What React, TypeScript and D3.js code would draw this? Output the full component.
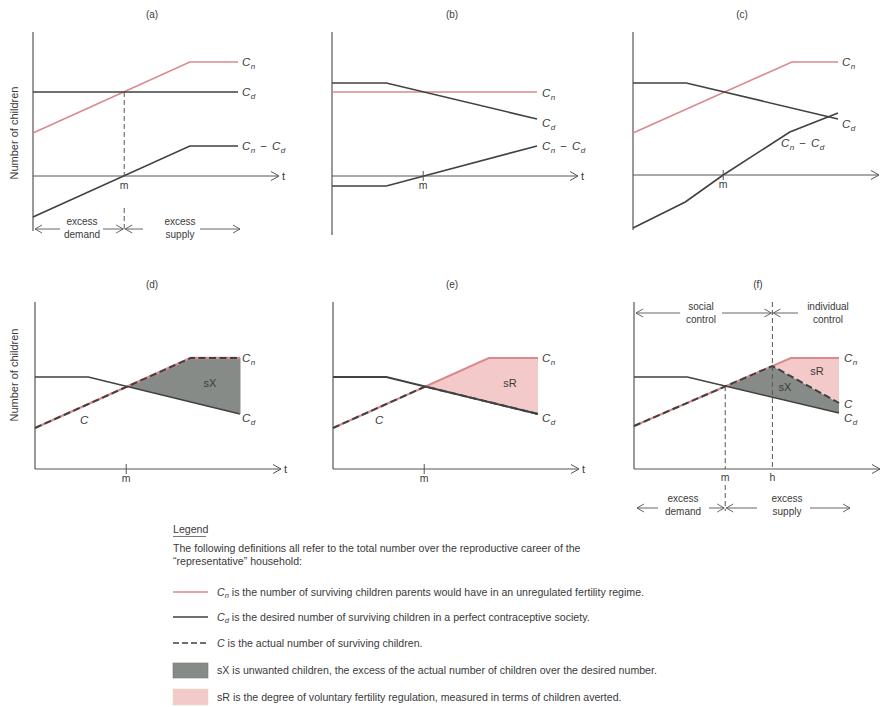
import React from 'react';
import * as d3 from 'd3';

type Pt = [number, number];

// ---- Data (t from 0..10, values in "children" units, 0 = time axis) ----
const A_CN: Pt[] = [[0, 4.3], [7.65, 11.4], [10, 11.4]];
const A_CD: Pt[] = [[0, 8.4], [10, 8.4]];
const A_DIFF: Pt[] = [[0, -4.1], [7.65, 3.0], [10, 3.0]];

const B_CN: Pt[] = [[0, 8.4], [10, 8.4]];
const B_CD: Pt[] = [[0, 9.3], [2.65, 9.3], [10, 5.7]];
const B_DIFF: Pt[] = [[0, -1.0], [2.65, -1.0], [10, 3.0]];

const C_CN: Pt[] = [[0, 4.2], [7.75, 11.3], [10, 11.3]];
const C_CD: Pt[] = [[0, 9.2], [2.6, 9.2], [10, 5.6]];
const C_DIFF: Pt[] = [[0, -5.3], [2.55, -2.7], [4.4, 0], [7.65, 4.3], [10, 6.2]];

const LOW_CN: Pt[] = [[0, 4.1], [7.6, 11.1], [10, 11.1]];
const LOW_CD: Pt[] = [[0, 9.2], [2.6, 9.2], [10, 5.5]];
const F_CN: Pt[] = [[0, 4.3], [7.65, 11.1], [10, 11.1]];
const F_CD: Pt[] = [[0, 9.2], [2.6, 9.2], [10, 5.6]];
const F_C: Pt[] = [[0, 4.3], [6.75, 10.3], [10, 6.6]];

const M_T = [4.45, 4.45, 4.4, 4.45, 4.45, 4.45];
const H_T = 6.75;
const PANEL_TITLES = ['(a)', '(b)', '(c)', '(d)', '(e)', '(f)'];

const LEGEND_TEXTS = [
  ' is the number of surviving children parents would have in an unregulated fertility regime.',
  ' is the desired number of surviving children in a perfect contraceptive society.',
  ' is the actual number of surviving children.',
  'sX is unwanted children, the excess of the actual number of children over the desired number.',
  'sR is the degree of voluntary fertility regulation, measured in terms of children averted.',
];

// ---- styles ----
const RED = '#d98a8e';
const DARK = '#3f4240';
const AXIS = '#555';
const TXT = '#3a3a3a';
const GREY_FILL = '#868b87';
const PINK_FILL = '#f4c9ca';
const FONT = 'Liberation Sans, Arial, Helvetica, sans-serif';
const LFS = 10.6;

const interp = (s: Pt[]) => d3.scaleLinear().domain(s.map(p => p[0])).range(s.map(p => p[1])).clamp(true);

function crossing(a: Pt[], b: Pt[]) {
  const fa = interp(a), fb = interp(b);
  let lo = 0, hi = 10;
  const sign = (t: number) => Math.sign(fa(t) - fb(t));
  const s0 = sign(lo);
  for (let i = 0; i < 60; i++) {
    const mid = (lo + hi) / 2;
    if (sign(mid) === s0) lo = mid; else hi = mid;
  }
  return (lo + hi) / 2;
}

function areaPts(upper: Pt[], lower: Pt[], t0: number, t1: number) {
  const fu = interp(upper), fl = interp(lower);
  const ts = Array.from(new Set([t0, t1, ...upper.map(p => p[0]), ...lower.map(p => p[0])]))
    .filter(t => t >= t0 && t <= t1).sort((a, b) => a - b);
  return ts.map(t => ({ t, hi: fu(t), lo: fl(t) }));
}

function CLab({ x, y, sub, diff, size = 11.5 }: { x: number; y: number; sub?: string; diff?: boolean; size?: number }) {
  return (
    <text x={x} y={y} fontSize={size} fill={TXT} fontFamily={FONT}>
      <tspan fontStyle="italic">C</tspan>
      {sub && <tspan fontStyle="italic" fontSize={size * 0.7} dy={3} dx={0.5}>{sub}</tspan>}
      {diff && <tspan dy={-3} dx={5}>{'\u2212'}</tspan>}
      {diff && <tspan fontStyle="italic" dx={5}>C</tspan>}
      {diff && <tspan fontStyle="italic" fontSize={size * 0.7} dy={3} dx={0.5}>d</tspan>}
    </text>
  );
}

type Lbl = { x: number; y: number; sub?: string; diff?: boolean };

interface PanelProps {
  x0: number; axisY: number; top: number; bottom: number; showT: boolean;
  title: string; titleX: number;
  lines: { s: Pt[]; color: string; dash?: string; w?: number }[];
  fills?: { d: { t: number; hi: number; lo: number }[]; color: string }[];
  labels: Lbl[];
  children?: (x: d3.ScaleLinear<number, number>, y: d3.ScaleLinear<number, number>) => React.ReactNode;
}

function Panel(p: PanelProps) {
  const x = d3.scaleLinear().domain([0, 10]).range([p.x0, p.x0 + 205]);
  const y = d3.scaleLinear().domain([0, 10]).range([p.axisY, p.axisY - 100]);
  const line = d3.line<Pt>().x(d => x(d[0])).y(d => y(d[1]));
  const area = d3.area<{ t: number; hi: number; lo: number }>().x(d => x(d.t)).y0(d => y(d.lo)).y1(d => y(d.hi));
  const end = p.x0 + 246;
  return (
    <g>
      <text x={p.titleX} y={p.top - 14} fontSize={10} textAnchor="middle" fill={TXT} fontFamily={FONT}>{p.title}</text>
      {p.fills?.map((f, i) => <path key={i} d={area(f.d) || ''} fill={f.color} stroke="none" />)}
      <line x1={p.x0} x2={p.x0} y1={p.top} y2={p.bottom} stroke={AXIS} strokeWidth={1.2} />
      <line x1={p.x0} x2={end} y1={p.axisY} y2={p.axisY} stroke={AXIS} strokeWidth={1} />
      <path d={`M${end - 8},${p.axisY - 4.5} L${end},${p.axisY} L${end - 8},${p.axisY + 4.5}`} fill="none" stroke={AXIS} strokeWidth={1} />
      {p.showT && <text x={end + 3} y={p.axisY + 4} fontSize={11} fill={TXT} fontFamily={FONT}>t</text>}
      {p.lines.map((l, i) => (
        <path key={i} d={line(l.s) || ''} fill="none" stroke={l.color} strokeWidth={l.w ?? 1.6} strokeDasharray={l.dash} />
      ))}
      {p.labels.map((l, i) => <CLab key={i} x={l.x} y={l.y} sub={l.sub} diff={l.diff} />)}
      {p.children && p.children(x, y)}
    </g>
  );
}

function Arrow({ x1, x2, y, dir }: { x1: number; x2: number; y: number; dir: 'l' | 'r' }) {
  const tip = dir === 'l' ? x1 : x2;
  const k = dir === 'l' ? 7 : -7;
  return (
    <g stroke={AXIS} strokeWidth={0.9} fill="none">
      <line x1={x1} x2={x2} y1={y} y2={y} />
      <path d={`M${tip + k},${y - 4} L${tip},${y} L${tip + k},${y + 4}`} />
    </g>
  );
}

function TwoLine({ x, y, a, b }: { x: number; y: number; a: string; b: string }) {
  return (
    <text x={x} y={y} fontSize={10} textAnchor="middle" fill={TXT} fontFamily={FONT}>
      <tspan x={x}>{a}</tspan>
      <tspan x={x} dy={13}>{b}</tspan>
    </text>
  );
}

function MTick({ x, y, label }: { x: number; y: number; label: string }) {
  return (
    <g>
      <line x1={x} x2={x} y1={y - 5} y2={y + 5} stroke={AXIS} strokeWidth={1} />
      <text x={x} y={y + 13} fontSize={10.5} textAnchor="middle" fill={TXT} fontFamily={FONT}>{label}</text>
    </g>
  );
}

export default function App() {
  const dashC = '7,3.5';
  // panel e actual C: Cn before crossing, Cd after
  const tcE = crossing(LOW_CN, LOW_CD);
  const E_C: Pt[] = [
    ...LOW_CN.filter(p => p[0] < tcE),
    [tcE, interp(LOW_CN)(tcE)],
    ...LOW_CD.filter(p => p[0] > tcE),
  ];
  const tcD = crossing(LOW_CN, LOW_CD);
  const tcF = crossing(F_C, F_CD);

  return (
    <svg width={881} height={707} style={{ position: 'absolute', left: 0, top: 0, background: '#fff' }}>
      {/* y-axis titles */}
      <text transform="translate(18,133) rotate(-90)" fontSize={11} textAnchor="middle" fill={TXT} fontFamily={FONT}>Number of children</text>
      <text transform="translate(18,375) rotate(-90)" fontSize={11} textAnchor="middle" fill={TXT} fontFamily={FONT}>Number of children</text>

      {/* (a) */}
      <Panel x0={33} axisY={176} top={32} bottom={231} showT title={PANEL_TITLES[0]} titleX={152}
        lines={[{ s: A_CN, color: RED }, { s: A_CD, color: DARK }, { s: A_DIFF, color: DARK }]}
        labels={[{ x: 242, y: 66, sub: 'n' }, { x: 242, y: 96, sub: 'd' }, { x: 242, y: 150, sub: 'n', diff: true }]}>
        {(x, y) => {
          const xm = x(M_T[0]);
          return (
            <g>
              <line x1={xm} x2={xm} y1={y(8.4)} y2={176} stroke={AXIS} strokeDasharray="5,3" />
              <text x={xm} y={189} fontSize={10.5} textAnchor="middle" fill={TXT} fontFamily={FONT}>m</text>
              <line x1={xm} x2={xm} y1={208} y2={232} stroke={AXIS} strokeDasharray="5,3" />
              <Arrow x1={35} x2={60} y={229} dir="l" />
              <Arrow x1={103} x2={xm - 1} y={229} dir="r" />
              <Arrow x1={xm + 1} x2={143} y={229} dir="l" />
              <Arrow x1={200} x2={240} y={229} dir="r" />
              <TwoLine x={82} y={225} a="excess" b="demand" />
              <TwoLine x={180} y={225} a="excess" b="supply" />
            </g>
          );
        }}
      </Panel>

      {/* (b) */}
      <Panel x0={332} axisY={176} top={32} bottom={235} showT title={PANEL_TITLES[1]} titleX={452}
        lines={[{ s: B_CN, color: RED }, { s: B_CD, color: DARK }, { s: B_DIFF, color: DARK }]}
        labels={[{ x: 542, y: 97, sub: 'n' }, { x: 542, y: 127, sub: 'd' }, { x: 542, y: 150, sub: 'n', diff: true }]}>
        {(x) => <MTick x={x(M_T[1])} y={176} label="m" />}
      </Panel>

      {/* (c) */}
      <Panel x0={633} axisY={175} top={32} bottom={230} showT={false} title={PANEL_TITLES[2]} titleX={742}
        lines={[{ s: C_CN, color: RED }, { s: C_CD, color: DARK }, { s: C_DIFF, color: DARK }]}
        labels={[{ x: 842, y: 66, sub: 'n' }, { x: 842, y: 128, sub: 'd' }, { x: 781, y: 147, sub: 'n', diff: true }]}>
        {(x) => <MTick x={x(M_T[2])} y={175} label="m" />}
      </Panel>

      {/* (d) */}
      <Panel x0={35} axisY={469} top={302} bottom={469} showT title={PANEL_TITLES[3]} titleX={152}
        fills={[{ d: areaPts(LOW_CN, LOW_CD, tcD, 10), color: GREY_FILL }]}
        lines={[{ s: LOW_CN, color: RED, w: 2.4 }, { s: LOW_CD, color: DARK }, { s: LOW_CN, color: DARK, dash: dashC, w: 2 }]}
        labels={[{ x: 242, y: 362, sub: 'n' }, { x: 242, y: 422, sub: 'd' }, { x: 80, y: 424 }]}>
        {(x, y) => (
          <g>
            <line x1={x(10)} x2={x(10)} y1={y(11.1)} y2={y(5.5)} stroke={GREY_FILL} strokeWidth={1} />
            <MTick x={x(M_T[3])} y={469} label="m" />
            <text x={210} y={387} fontSize={11} textAnchor="middle" fill={TXT} fontFamily={FONT}>sX</text>
          </g>
        )}
      </Panel>

      {/* (e) */}
      <Panel x0={333} axisY={469} top={302} bottom={469} showT title={PANEL_TITLES[4]} titleX={452}
        fills={[{ d: areaPts(LOW_CN, LOW_CD, tcE, 10), color: PINK_FILL }]}
        lines={[{ s: LOW_CN, color: RED, w: 2 }, { s: LOW_CD, color: DARK, w: 2 }, { s: E_C, color: DARK, dash: dashC, w: 2 }]}
        labels={[{ x: 542, y: 362, sub: 'n' }, { x: 542, y: 422, sub: 'd' }, { x: 375, y: 424 }]}>
        {(x) => (
          <g>
            <MTick x={x(M_T[4])} y={469} label="m" />
            <text x={510} y={387} fontSize={11} textAnchor="middle" fill={TXT} fontFamily={FONT}>sR</text>
          </g>
        )}
      </Panel>

      {/* (f) */}
      <Panel x0={634} axisY={469} top={302} bottom={469} showT={false} title={PANEL_TITLES[5]} titleX={758}
        fills={[
          { d: areaPts(F_C, F_CD, tcF, 10), color: GREY_FILL },
          { d: areaPts(F_CN, F_C, H_T, 10), color: PINK_FILL },
        ]}
        lines={[{ s: F_CN, color: RED, w: 2 }, { s: F_CD, color: DARK }, { s: F_C, color: DARK, dash: dashC, w: 2 }]}
        labels={[{ x: 844, y: 362, sub: 'n' }, { x: 844, y: 408 }, { x: 844, y: 422, sub: 'd' }]}>
        {(x, y) => {
          const xm = x(M_T[5]);
          const xh = x(H_T);
          return (
            <g>
              <line x1={xm} x2={xm} y1={y(interp(F_CD)(tcF))} y2={469} stroke={AXIS} strokeDasharray="5,3" />
              <line x1={xh} x2={xh} y1={302} y2={469} stroke={AXIS} strokeDasharray="5,3" />
              <text x={xm} y={481} fontSize={10.5} textAnchor="middle" fill={TXT} fontFamily={FONT}>m</text>
              <text x={xh} y={481} fontSize={10.5} textAnchor="middle" fill={TXT} fontFamily={FONT}>h</text>
              <text x={785} y={391} fontSize={11} textAnchor="middle" fill={TXT} fontFamily={FONT}>sX</text>
              <text x={817} y={375} fontSize={11} textAnchor="middle" fill={TXT} fontFamily={FONT}>sR</text>
              {/* social / individual control */}
              <Arrow x1={636} x2={680} y={313} dir="l" />
              <Arrow x1={722} x2={xh - 1} y={313} dir="r" />
              <Arrow x1={xh + 1} x2={798} y={313} dir="l" />
              <TwoLine x={701} y={310} a="social" b="control" />
              <TwoLine x={828} y={310} a="individual" b="control" />
              {/* excess demand / supply */}
              <line x1={xm} x2={xm} y1={485} y2={511} stroke={AXIS} strokeDasharray="5,3" />
              <Arrow x1={637} x2={658} y={508} dir="l" />
              <Arrow x1={709} x2={xm - 1} y={508} dir="r" />
              <Arrow x1={xm + 1} x2={757} y={508} dir="l" />
              <Arrow x1={810} x2={850} y={508} dir="r" />
              <TwoLine x={683} y={502} a="excess" b="demand" />
              <TwoLine x={787} y={502} a="excess" b="supply" />
            </g>
          );
        }}
      </Panel>

      {/* Legend */}
      <g fontFamily={FONT} fill={TXT}>
        <text x={173} y={533} fontSize={LFS}>Legend</text>
        <line x1={173} x2={206} y1={536.5} y2={536.5} stroke={AXIS} strokeWidth={0.8} />
        <text x={173} y={552} fontSize={LFS}>The following definitions all refer to the total number over the reproductive career of the</text>
        <text x={173} y={565} fontSize={LFS}>{'\u201Crepresentative\u201D household:'}</text>

        <line x1={173} x2={208} y1={592} y2={592} stroke={RED} strokeWidth={1.5} />
        <text x={217} y={595.5} fontSize={LFS}>
          <tspan fontStyle="italic">C</tspan><tspan fontStyle="italic" fontSize={7.5} dy={2.5}>n</tspan><tspan dy={-2.5}>{LEGEND_TEXTS[0]}</tspan>
        </text>
        <line x1={173} x2={208} y1={617} y2={617} stroke={DARK} strokeWidth={1.6} />
        <text x={217} y={620.5} fontSize={LFS}>
          <tspan fontStyle="italic">C</tspan><tspan fontStyle="italic" fontSize={7.5} dy={2.5}>d</tspan><tspan dy={-2.5}>{LEGEND_TEXTS[1]}</tspan>
        </text>
        <line x1={173} x2={208} y1={643} y2={643} stroke={DARK} strokeWidth={1.6} strokeDasharray="6,3" />
        <text x={217} y={646.5} fontSize={LFS}>
          <tspan fontStyle="italic">C</tspan><tspan>{LEGEND_TEXTS[2]}</tspan>
        </text>
        <rect x={173} y={663} width={35} height={15} fill={GREY_FILL} stroke="#777" strokeWidth={0.6} />
        <text x={217} y={673.5} fontSize={LFS}>{LEGEND_TEXTS[3]}</text>
        <rect x={173} y={689} width={35} height={16} fill={PINK_FILL} stroke="#ddb" strokeWidth={0.6} />
        <text x={217} y={700.5} fontSize={LFS}>{LEGEND_TEXTS[4]}</text>
      </g>
    </svg>
  );
}
